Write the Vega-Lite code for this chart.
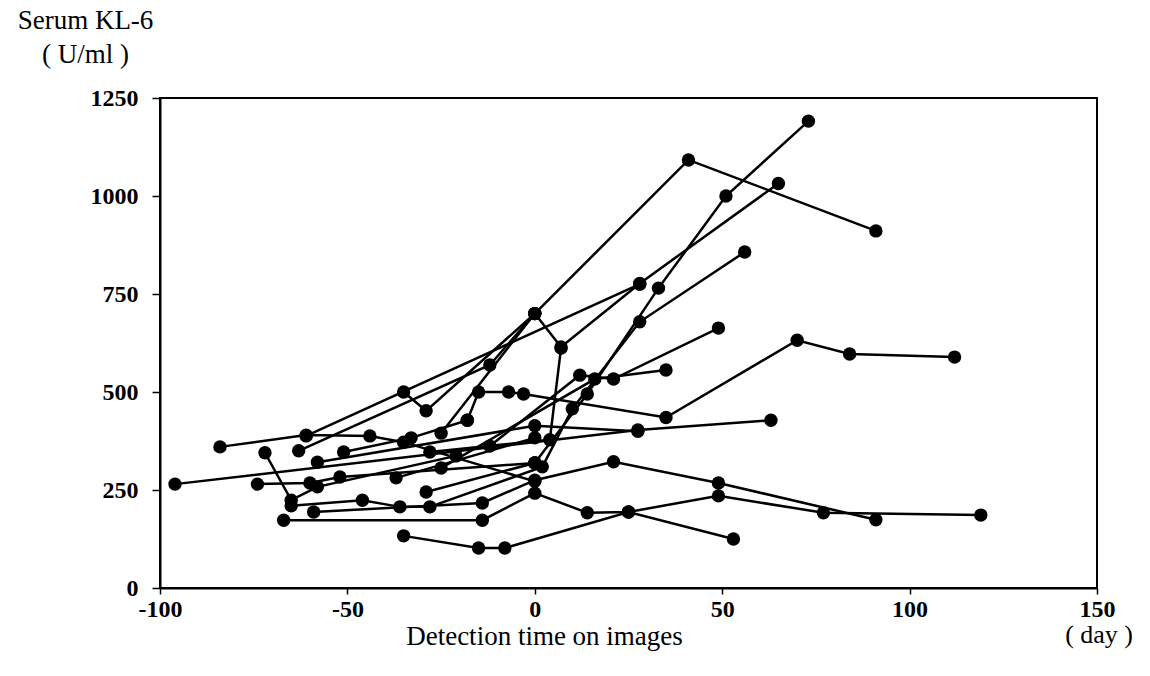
{
  "$schema": "https://vega.github.io/schema/vega-lite/v6.json",
  "autosize": "none",
  "width": 937,
  "height": 490,
  "padding": {"left": 160, "top": 98, "right": 53, "bottom": 88},
  "background": "white",
  "config": {
    "view": {"stroke": "black", "strokeWidth": 2},
    "font": "Liberation Serif"
  },
  "datasets": {
    "pts": [
      {"id": "S1", "day": -63, "kl6": 350}, {"id": "S1", "day": -12, "kl6": 569}, {"id": "S1", "day": 0, "kl6": 700}, {"id": "S1", "day": 41, "kl6": 1092}, {"id": "S1", "day": 91, "kl6": 911},
      {"id": "S2", "day": -35, "kl6": 500}, {"id": "S2", "day": -29, "kl6": 452}, {"id": "S2", "day": 0, "kl6": 700}, {"id": "S2", "day": 7, "kl6": 615}, {"id": "S2", "day": 28, "kl6": 777}, {"id": "S2", "day": 65, "kl6": 1032},
      {"id": "S3", "day": -25, "kl6": 395}, {"id": "S3", "day": 0, "kl6": 700},
      {"id": "S5", "day": -61, "kl6": 388}, {"id": "S5", "day": 28, "kl6": 775},
      {"id": "S6", "day": -18, "kl6": 428}, {"id": "S6", "day": -15, "kl6": 500}, {"id": "S6", "day": -7, "kl6": 500}, {"id": "S6", "day": -3, "kl6": 495}, {"id": "S6", "day": 35, "kl6": 435}, {"id": "S6", "day": 70, "kl6": 632}, {"id": "S6", "day": 84, "kl6": 597}, {"id": "S6", "day": 112, "kl6": 589},
      {"id": "S7", "day": -96, "kl6": 265}, {"id": "S7", "day": 27.5, "kl6": 403}, {"id": "S7", "day": 63, "kl6": 428},
      {"id": "S8", "day": -58, "kl6": 321}, {"id": "S8", "day": 0, "kl6": 414}, {"id": "S8", "day": 27.5, "kl6": 400},
      {"id": "S9", "day": 0, "kl6": 319}, {"id": "S9", "day": 14, "kl6": 495}, {"id": "S9", "day": 33, "kl6": 765}, {"id": "S9", "day": 51, "kl6": 1000}, {"id": "S9", "day": 73, "kl6": 1191},
      {"id": "S10", "day": -65, "kl6": 210}, {"id": "S10", "day": -46, "kl6": 224}, {"id": "S10", "day": -36, "kl6": 207}, {"id": "S10", "day": -28, "kl6": 207}, {"id": "S10", "day": 2, "kl6": 309}, {"id": "S10", "day": 10, "kl6": 457}, {"id": "S10", "day": 28, "kl6": 679}, {"id": "S10", "day": 56, "kl6": 857},
      {"id": "S11", "day": -12, "kl6": 362}, {"id": "S11", "day": 12, "kl6": 543}, {"id": "S11", "day": 21, "kl6": 533}, {"id": "S11", "day": 49, "kl6": 663},
      {"id": "S12", "day": -25, "kl6": 306}, {"id": "S12", "day": 16, "kl6": 533}, {"id": "S12", "day": 35, "kl6": 556},
      {"id": "S13", "day": -28, "kl6": 347}, {"id": "S13", "day": 4, "kl6": 378}, {"id": "S13", "day": 7, "kl6": 612},
      {"id": "S14", "day": -37, "kl6": 281}, {"id": "S14", "day": 0, "kl6": 383},
      {"id": "S15", "day": -84, "kl6": 360}, {"id": "S15", "day": -61, "kl6": 390}, {"id": "S15", "day": -44, "kl6": 388}, {"id": "S15", "day": -35, "kl6": 372}, {"id": "S15", "day": 0, "kl6": 272},
      {"id": "S16", "day": -74, "kl6": 265}, {"id": "S16", "day": -60, "kl6": 268}, {"id": "S16", "day": -52, "kl6": 283}, {"id": "S16", "day": 0, "kl6": 319},
      {"id": "S17", "day": -72, "kl6": 345}, {"id": "S17", "day": -65, "kl6": 224}, {"id": "S17", "day": -58, "kl6": 258}, {"id": "S17", "day": -21, "kl6": 337},
      {"id": "S19", "day": -67, "kl6": 173}, {"id": "S19", "day": -14, "kl6": 173}, {"id": "S19", "day": 0, "kl6": 242}, {"id": "S19", "day": 14, "kl6": 192}, {"id": "S19", "day": 25, "kl6": 194}, {"id": "S19", "day": 49, "kl6": 235}, {"id": "S19", "day": 77, "kl6": 192}, {"id": "S19", "day": 119, "kl6": 186},
      {"id": "S20", "day": -59, "kl6": 194}, {"id": "S20", "day": -14, "kl6": 217}, {"id": "S20", "day": 0, "kl6": 275}, {"id": "S20", "day": 21, "kl6": 322}, {"id": "S20", "day": 49, "kl6": 268}, {"id": "S20", "day": 91, "kl6": 174},
      {"id": "S21", "day": -35, "kl6": 133}, {"id": "S21", "day": -15, "kl6": 102}, {"id": "S21", "day": -8, "kl6": 102}, {"id": "S21", "day": 25, "kl6": 194}, {"id": "S21", "day": 53, "kl6": 125},
      {"id": "S22", "day": -29, "kl6": 245}, {"id": "S22", "day": 0, "kl6": 319},
      {"id": "S23", "day": -51, "kl6": 347}, {"id": "S23", "day": -33, "kl6": 383}, {"id": "S23", "day": -18, "kl6": 428}
    ]
  },
  "title": {
    "text": "( day )",
    "orient": "bottom",
    "anchor": "end",
    "font": "Liberation Serif",
    "fontSize": 26,
    "fontWeight": "normal",
    "color": "black",
    "offset": 0,
    "dy": -27,
    "dx": 18
  },
  "encoding": {
    "x": {
      "field": "day",
      "type": "quantitative",
      "scale": {"domain": [-100, 150], "nice": false, "zero": false},
      "axis": {
        "values": [-100, -50, 0, 50, 100, 150],
        "labelExpr": "'' + datum.value",
        "grid": false,
        "domainColor": "black",
        "domainWidth": 2,
        "tickColor": "black",
        "tickWidth": 1.5,
        "tickSize": 6,
        "labelFont": "Liberation Serif",
        "labelFontSize": 24,
        "labelFontWeight": "bold",
        "labelColor": "black",
        "labelPadding": 3,
        "labelFlush": false,
        "title": "Detection time on images",
        "titleFont": "Liberation Serif",
        "titleFontSize": 27,
        "titleFontWeight": "normal",
        "titleColor": "black",
        "titleAnchor": "start",
        "titleAlign": "center",
        "titleX": 384,
        "titleY": 56,
        "titleBaseline": "alphabetic"
      }
    },
    "y": {
      "field": "kl6",
      "type": "quantitative",
      "scale": {"domain": [0, 1250], "nice": false},
      "axis": {
        "values": [0, 250, 500, 750, 1000, 1250],
        "labelExpr": "'' + datum.value",
        "grid": false,
        "domainColor": "black",
        "domainWidth": 2,
        "tickColor": "black",
        "tickWidth": 1.5,
        "tickSize": 8,
        "labelFont": "Liberation Serif",
        "labelFontSize": 24,
        "labelFontWeight": "bold",
        "labelColor": "black",
        "labelPadding": 14,
        "labelFlush": false,
        "title": ["Serum KL-6", "( U/ml )"],
        "titleFont": "Liberation Serif",
        "titleFontSize": 27,
        "titleFontWeight": "normal",
        "titleColor": "black",
        "titleAngle": 0,
        "titleAlign": "center",
        "titleBaseline": "alphabetic",
        "titleX": -75,
        "titleY": -70,
        "titleLineHeight": 34
      }
    }
  },
  "layer": [
    {
      "mark": {"type": "rule", "stroke": "#666666", "strokeWidth": 2, "strokeDash": [2, 3]},
      "encoding": {"y": {"datum": 500}, "x": null}
    },
    {
      "mark": {"type": "rule", "stroke": "black", "strokeWidth": 2},
      "encoding": {"x": {"datum": 0}, "y": null}
    },
    {
      "data": {"name": "pts"},
      "mark": {"type": "line", "color": "black", "strokeWidth": 2.5},
      "encoding": {
        "detail": {"field": "id"},
        "order": {"field": "day", "type": "quantitative"}
      }
    },
    {
      "data": {"name": "pts"},
      "mark": {"type": "point", "filled": true, "color": "black", "opacity": 1, "size": 180},
      "encoding": {}
    }
  ]
}
